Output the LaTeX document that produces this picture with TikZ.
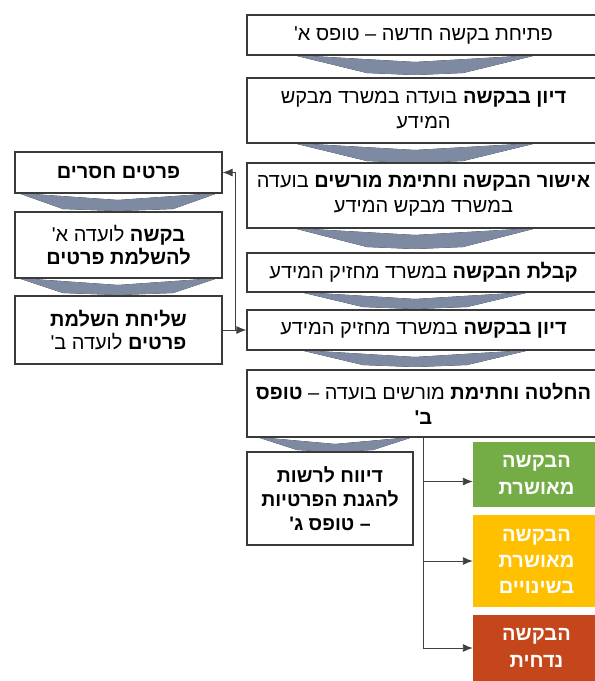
\documentclass[tikz,border=0pt]{standalone}
\usepackage{fontspec}
\usetikzlibrary{arrows.meta}
\newfontfamily\hebfont[Script=Hebrew]{Liberation Sans}
\TeXXeTstate=1
\newcommand\heb[1]{\beginR #1\endR}
\definecolor{boxline}{HTML}{3A3A3A}
\definecolor{linegray}{HTML}{404040}
\definecolor{chevdark}{HTML}{46546E}
\definecolor{chevlight}{HTML}{7D8AA2}
\definecolor{okgreen}{HTML}{74AD45}
\definecolor{okyellow}{HTML}{FFC000}
\definecolor{nored}{HTML}{C5461A}
% chevron: centre x, top, bottom, half width at top, half width at bottom
\newcommand\chev[5]{\fill[left color=chevlight, middle color=chevdark, right color=chevlight]
  (#1-#4,#2) -- (#1,#2+7) -- (#1+#4,#2) -- (#1+#5,#3) -- (#1,#3+2) -- (#1-#5,#3) -- cycle;}

\begin{document}
\begin{tikzpicture}[x=1pt, y=-1pt,
  stepbox/.style={draw=boxline, line width=1.3pt, fill=white, align=center, inner sep=2pt,
    minimum width=353pt, font=\hebfont\fontsize{20}{25}\selectfont},
  sidebox/.style={stepbox, minimum width=207pt, font=\hebfont\fontsize{20}{23}\selectfont},
  endbox/.style={align=center, inner sep=0pt, minimum width=127pt, text=white,
    font=\hebfont\bfseries\fontsize{20}{27}\selectfont},
  link/.style={draw=linegray, line width=0.9pt, -{Latex[length=10pt,width=8pt]}}]

  \useasboundingbox (0,0) rectangle (595,681);

  \newcommand\RX{423.5}
  \newcommand\LX{118.5}

  \chev{415}{55}{73}{122}{48}
  \chev{415}{143}{161}{122}{48}
  \chev{415}{228}{247}{122}{48}
  \chev{415}{292}{307}{115}{52}
  \chev{415}{350}{365}{115}{52}
  \chev{335}{437}{450}{78}{38}
  \chev{118}{193}{209}{100}{55}
  \chev{118}{278}{293}{100}{55}

  \node[stepbox, minimum height=40pt] (open) at (\RX, 35) {\heb{פתיחת בקשה חדשה – טופס א'}};
  \node[stepbox, minimum height=65pt] (discuss) at (\RX, 110.5)
    {\heb{\textbf{דיון בבקשה} בועדה במשרד מבקש}\\\heb{המידע}};
  \node[stepbox, minimum height=65pt] (approve) at (\RX, 195.5)
    {\heb{\textbf{אישור הבקשה וחתימת מורשים} בועדה}\\\heb{במשרד מבקש המידע}};
  \node[stepbox, minimum height=39pt] (receive) at (\RX, 272.5) {\heb{\textbf{קבלת הבקשה} במשרד מחזיק המידע}};
  \node[stepbox, minimum height=40pt] (review) at (\RX, 330) {\heb{\textbf{דיון בבקשה} במשרד מחזיק המידע}};
  \node[stepbox, minimum height=67pt] (decide) at (\RX, 403.5)
    {\heb{\textbf{החלטה וחתימת} מורשים בועדה – \textbf{טופס}}\\\heb{\textbf{ב'}}};
  \node[stepbox, minimum width=166pt, minimum height=93pt,
    font=\hebfont\bfseries\fontsize{19.5}{24}\selectfont] (report) at (330, 498.5)
    {\heb{דיווח לרשות}\\\heb{להגנת הפרטיות}\\\heb{– טופס ג'}};

  \node[sidebox, minimum height=41pt] (missing) at (\LX, 172.5) {\heb{\textbf{פרטים חסרים}}};
  \node[sidebox, minimum height=66pt] (ask) at (\LX, 245)
    {\heb{\textbf{בקשה} לועדה א'}\\\heb{\textbf{להשלמת פרטים}}};
  \node[sidebox, minimum height=68pt] (send) at (\LX, 330)
    {\heb{\textbf{שליחת השלמת}}\\\heb{\textbf{פרטים} לועדה ב'}};

  \node[endbox, fill=okgreen, minimum height=65pt] (granted) at (536.5, 474.5) {\heb{הבקשה}\\\heb{מאושרת}};
  \node[endbox, fill=okyellow, minimum height=92pt, font=\hebfont\bfseries\fontsize{20}{26}\selectfont]
    (partly) at (536.5, 561) {\heb{הבקשה}\\\heb{מאושרת}\\\heb{בשינויים}};
  \node[endbox, fill=nored, minimum height=66pt] (denied) at (536.5, 648) {\heb{הבקשה}\\\heb{נדחית}};

  \coordinate (jn) at (235, 330);
  \coordinate (gin) at ([yshift=-7pt]granted.west);
  \draw[link] (send.east) -- (review.west); %% send -> review
  \draw[link] (jn) |- (missing.east);

  \draw[link] (decide.south) |- (denied.west); %% decide -> outcomes
  \draw[link] (decide.south |- gin) -- (gin);
  \draw[link] (decide.south |- partly.west) -- (partly.west);
\end{tikzpicture}
\end{document}
